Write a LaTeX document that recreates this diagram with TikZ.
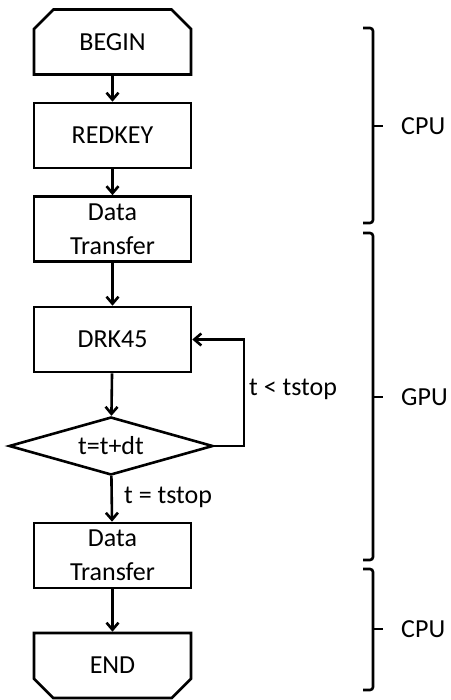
\documentclass[tikz,border=0pt]{standalone}
\usepackage{fontspec}
\setmainfont{Carlito}
\usetikzlibrary{arrows.meta,shapes.geometric,shapes.misc}
\begin{document}
\begin{tikzpicture}[x=1pt,y=-1pt,
  every node/.style={font=\fontsize{26}{34}\selectfont, inner sep=0pt},
  boxnode/.style={draw, line width=2.6pt, minimum width=157pt, minimum height=65pt, align=center},
  topcham/.style={boxnode, chamfered rectangle, chamfered rectangle corners={north west,north east}, chamfered rectangle xsep=11pt, chamfered rectangle ysep=11pt},
  botcham/.style={boxnode, chamfered rectangle, chamfered rectangle corners={south west,south east}, chamfered rectangle xsep=11pt, chamfered rectangle ysep=11pt},
  decision/.style={draw, line width=2.6pt, diamond, aspect=3.5, minimum width=204pt, minimum height=58pt},
  flow/.style={line width=2.6pt, -{Straight Barb[length=7pt,width=12pt,line width=2.6pt]}},
  bracket/.style={line width=2.6pt, rounded corners=3pt},
  lbl/.style={anchor=west}
]
\useasboundingbox (0,0) rectangle (450,700);
\node[topcham] (begin) at (112.5,42) {BEGIN};
\node[boxnode] (redkey) at (112.5,135.5) {REDKEY};
\node[boxnode] (dt1) at (112.5,229) {Data\\Transfer};
\node[boxnode] (drk) at (112.5,339.5) {DRK45};
\node[decision] (dec) at (111,446) {t=t+dt};
\node[boxnode] (dt2) at (112.5,555.5) {Data\\Transfer};
\node[botcham] (end) at (112.5,665.5) {END};

\draw[flow] (begin) -- (redkey);
\draw[flow] (redkey) -- (dt1);
\draw[flow] (dt1) -- (drk);
\draw[flow] (drk) -- (dec);
\draw[flow] (dec) -- (dt2);
\draw[flow] (dt2) -- (end);
\coordinate (loopx) at (244,0);
\draw[flow] (dec.east) -- (dec.east -| loopx) -- (drk.east -| loopx) -- (drk.east);
\node[lbl] (lt) at (249,389) {t < tstop};
\node[lbl] (le) at (124,497) {t = tstop};

\draw[bracket] (363,28) -- (373,28) -- (373,223) -- (363,223);
\draw[line width=2.6pt] (373,126) -- (383,126);
\node[lbl] (cpu1) at (401,126) {CPU};

\draw[bracket] (363,233) -- (373,233) -- (373,560) -- (363,560);
\draw[line width=2.6pt] (373,397) -- (383,397);
\node[lbl] (gpu) at (401,397) {GPU};

\draw[bracket] (363,569) -- (373,569) -- (373,690) -- (363,690);
\draw[line width=2.6pt] (373,629) -- (383,629);
\node[lbl] (cpu2) at (401,629) {CPU};
\end{tikzpicture}
\end{document}
